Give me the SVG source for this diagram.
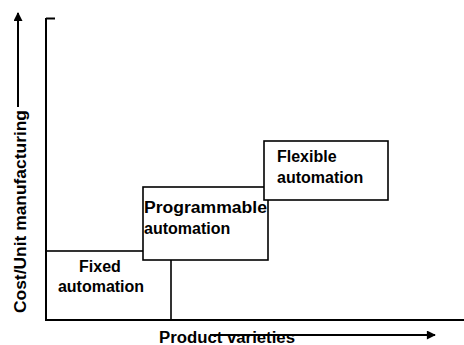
<svg xmlns="http://www.w3.org/2000/svg" width="464" height="345" viewBox="0 0 464 345">
  <style>
    .box { fill: #ffffff; stroke: #000000; stroke-width: 1.6; }
    .ax { fill: none; stroke: #000000; stroke-width: 2; }
    .lbl { font-family: "Liberation Sans", Arial, sans-serif; font-weight: bold; font-size: 16px; fill: #000000; }
  </style>
  <defs>
    <marker id="ah" viewBox="0 0 10 10" refX="9" refY="5" markerWidth="5" markerHeight="4.5" orient="auto" markerUnits="strokeWidth">
      <path d="M0,0 L10,5 L0,10 Z" fill="#000000"/>
    </marker>
  </defs>
  <rect width="464" height="345" fill="#ffffff"/>

  <g id="fixed-automation">
    <rect class="box" x="46" y="251" width="125" height="69"/>
    <text class="lbl" x="100" y="272" text-anchor="middle">Fixed</text>
    <text class="lbl" x="101" y="292" text-anchor="middle">automation</text>
  </g>

  <g id="programmable-automation">
    <rect class="box" x="143" y="187" width="125" height="73"/>
    <text class="lbl" x="144" y="213" textLength="123" lengthAdjust="spacingAndGlyphs">Programmable</text>
    <text class="lbl" x="144" y="234">automation</text>
  </g>

  <g id="flexible-automation">
    <rect class="box" x="264" y="141" width="124" height="59"/>
    <text class="lbl" x="277" y="162">Flexible</text>
    <text class="lbl" x="277" y="183">automation</text>
  </g>

  <g id="connectors">
    <path class="ax" d="M46,18 L46,320 L464,320"/>
    <path class="ax" d="M46,18.5 L55,18.5" stroke-width="1.2"/>
    <line x1="18" y1="107" x2="18" y2="13" stroke="#000" stroke-width="2" marker-end="url(#ah)"/>
    <line x1="210" y1="335" x2="435" y2="335" stroke="#000" stroke-width="2" marker-end="url(#ah)"/>
  </g>

  <g id="axis-labels">
    <text class="lbl" transform="translate(26,211.5) rotate(-90)" text-anchor="middle" textLength="203" lengthAdjust="spacingAndGlyphs">Cost/Unit manufacturing</text>
    <text class="lbl" x="159" y="343" textLength="136" lengthAdjust="spacingAndGlyphs">Product varieties</text>
  </g>
</svg>
